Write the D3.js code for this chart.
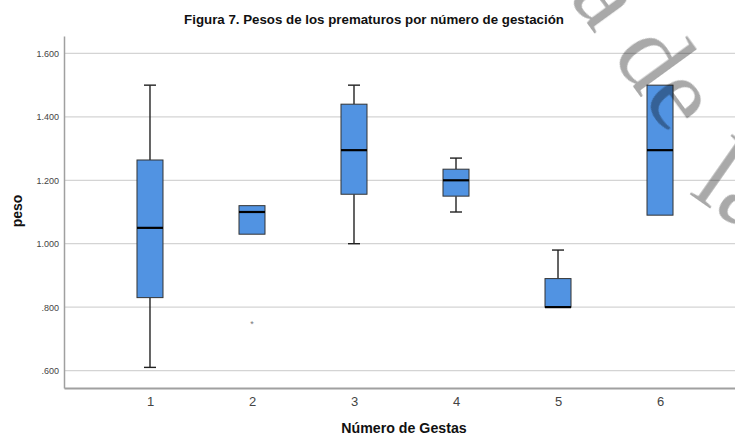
<!DOCTYPE html>
<html>
<head>
<meta charset="utf-8">
<script src="https://cdn.jsdelivr.net/npm/d3@7/dist/d3.min.js"></script>
<style>
  html, body { margin: 0; padding: 0; background: #fff; }
  svg { display: block; }
</style>
</head>
<body>
<div id="chart"></div>
<script>
// Birth weight (kg) of premature newborns by number of pregnancies
const categories  = ["1", "2", "3", "4", "5", "6"];
const whiskerLow  = [0.610, 1.030, 1.000, 1.100, 0.800, 1.090];
const q1          = [0.830, 1.030, 1.156, 1.150, 0.800, 1.090];
const median      = [1.050, 1.100, 1.295, 1.200, 0.800, 1.295];
const q3          = [1.264, 1.120, 1.440, 1.235, 0.890, 1.500];
const whiskerHigh = [1.500, 1.120, 1.500, 1.270, 0.980, 1.500];
const outlierGroups = ["2"];
const outlierValues = [0.750];
const yTicks      = [0.6, 0.8, 1.0, 1.2, 1.4, 1.6];
const yTickLabels = [".600", ".800", "1.000", "1.200", "1.400", "1.600"];

const W = 735, H = 436;
const plotLeft = 64, plotRight = 746, plotTop = 36, plotBottom = 388;

const svg = d3.select("#chart").append("svg")
  .attr("width", W).attr("height", H);

const x = d3.scalePoint().domain(categories).range([plotLeft, plotRight]).padding(0.843);
const y = d3.scaleLinear().domain([0.545, 1.655]).range([plotBottom, plotTop]);

// gridlines
svg.append("g")
  .selectAll("line").data(yTicks).join("line")
  .attr("x1", plotLeft).attr("x2", plotRight)
  .attr("y1", d => y(d)).attr("y2", d => y(d))
  .attr("stroke", "#d4d4d4").attr("stroke-width", 1.3);

// y axis
const yAxis = d3.axisLeft(y).tickValues(yTicks)
  .tickFormat((d, i) => yTickLabels[i]).tickSize(0).tickPadding(5);
const gy = svg.append("g").attr("transform", `translate(${plotLeft},0)`).call(yAxis);
gy.select(".domain").attr("stroke", "#a0a0a0").attr("stroke-width", 1.5);
gy.selectAll("text").attr("font-family", "Arial, 'Liberation Sans', sans-serif")
  .attr("font-size", 9).attr("fill", "#444");

// x axis
const xAxis = d3.axisBottom(x).tickSize(0).tickPadding(9);
const gx = svg.append("g").attr("transform", `translate(0,${plotBottom})`).call(xAxis);
gx.select(".domain").attr("stroke", "#a0a0a0").attr("stroke-width", 1.8);
gx.selectAll("text").attr("font-family", "Arial, 'Liberation Sans', sans-serif")
  .attr("font-size", 13).attr("fill", "#444");

// boxes
const boxW = 26, capW = 12;
const rows = categories.map((c, i) => ({
  c, lo: whiskerLow[i], q1: q1[i], med: median[i], q3: q3[i], hi: whiskerHigh[i]
}));
const g = svg.append("g").selectAll("g").data(rows).join("g");

// whiskers (only where they extend beyond the box)
g.filter(d => d.hi > d.q3).call(s => {
  s.append("line").attr("x1", d => x(d.c)).attr("x2", d => x(d.c))
    .attr("y1", d => y(d.q3)).attr("y2", d => y(d.hi))
    .attr("stroke", "#222").attr("stroke-width", 1.4);
  s.append("line").attr("x1", d => x(d.c) - capW / 2).attr("x2", d => x(d.c) + capW / 2)
    .attr("y1", d => y(d.hi)).attr("y2", d => y(d.hi))
    .attr("stroke", "#222").attr("stroke-width", 1.4);
});
g.filter(d => d.lo < d.q1).call(s => {
  s.append("line").attr("x1", d => x(d.c)).attr("x2", d => x(d.c))
    .attr("y1", d => y(d.q1)).attr("y2", d => y(d.lo))
    .attr("stroke", "#222").attr("stroke-width", 1.4);
  s.append("line").attr("x1", d => x(d.c) - capW / 2).attr("x2", d => x(d.c) + capW / 2)
    .attr("y1", d => y(d.lo)).attr("y2", d => y(d.lo))
    .attr("stroke", "#222").attr("stroke-width", 1.4);
});

g.append("rect")
  .attr("x", d => x(d.c) - boxW / 2).attr("width", boxW)
  .attr("y", d => y(d.q3)).attr("height", d => y(d.q1) - y(d.q3))
  .attr("fill", "#5193e2").attr("stroke", "#333").attr("stroke-width", 1);

g.append("line")
  .attr("x1", d => x(d.c) - boxW / 2).attr("x2", d => x(d.c) + boxW / 2)
  .attr("y1", d => y(d.med)).attr("y2", d => y(d.med))
  .attr("stroke", "#000").attr("stroke-width", 2.2);

// extreme values
svg.append("g").selectAll("text").data(outlierValues).join("text")
  .attr("x", (d, i) => x(outlierGroups[i]))
  .attr("y", d => y(d) + 4)
  .attr("text-anchor", "middle")
  .attr("font-family", "Arial, sans-serif").attr("font-size", 9)
  .attr("fill", "#777").text("*");

// titles
svg.append("text").attr("x", 374).attr("y", 24).attr("text-anchor", "middle")
  .attr("font-family", "Arial, 'Liberation Sans', sans-serif").attr("font-weight", "bold")
  .attr("font-size", 13.3).attr("fill", "#111")
  .text("Figura 7. Pesos de los prematuros por número de gestación");

svg.append("text").attr("x", 404).attr("y", 433).attr("text-anchor", "middle")
  .attr("font-family", "Arial, 'Liberation Sans', sans-serif").attr("font-weight", "bold")
  .attr("font-size", 14.2).attr("fill", "#111")
  .text("Número de Gestas");

svg.append("text").attr("transform", "translate(22,211) rotate(-90)")
  .attr("text-anchor", "middle")
  .attr("font-family", "Arial, 'Liberation Sans', sans-serif").attr("font-weight", "bold")
  .attr("font-size", 14).attr("fill", "#111")
  .text("peso");

// document watermark
const wm = svg.append("g").attr("opacity", 0.34)
  .attr("font-family", "'Liberation Serif', 'DejaVu Serif', serif")
  .attr("font-size", 105).attr("fill", "#000");
wm.append("text").attr("transform", "translate(568,-3) rotate(54)").text("a de");
wm.append("text").attr("transform", "translate(688,193) rotate(35)").text("la");
</script>
</body>
</html>
